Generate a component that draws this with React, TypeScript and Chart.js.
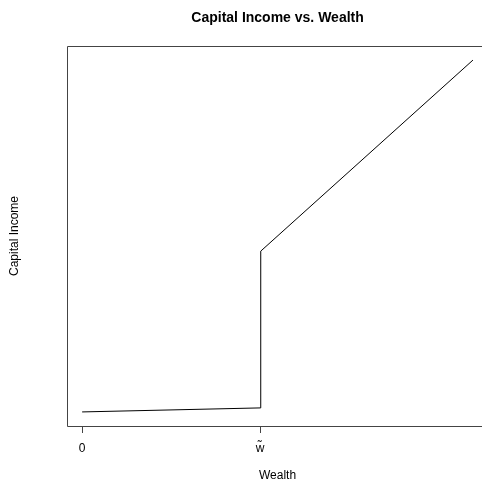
import React, { useEffect, useRef } from "react";
import { Chart, registerables } from "chart.js";

Chart.register(...registerables);

const wealth = [0, 1, 1.004, 2.197];
const capitalIncome = [0, 0.114, 4.57, 10];
const xTickValues = [0, 1];
const xTickLabels = ["0", "w\u0303"];
const titleText = "Capital Income vs. Wealth";
const xTitle = "Wealth";
const yTitle = "Capital Income";

const FONT = "'Liberation Sans', Arial, Helvetica, sans-serif";

export default function App() {
  const ref = useRef<HTMLCanvasElement | null>(null);
  useEffect(() => {
    if (!ref.current) return;
    const xr = wealth[wealth.length - 1] - wealth[0];
    const yr = Math.max(...capitalIncome) - Math.min(...capitalIncome);
    const framePlugin = {
      id: "frame",
      afterDraw(chart: any) {
        const { ctx, chartArea } = chart;
        const { left, top, right, bottom } = chartArea;
        const L = Math.round(left) + 0.5;
        const T = Math.round(top) + 0.5;
        const B = Math.round(bottom) + 0.5;
        ctx.save();
        ctx.strokeStyle = "#444";
        ctx.lineWidth = 1;
        ctx.beginPath();
        ctx.moveTo(chart.width, T);
        ctx.lineTo(L, T);
        ctx.lineTo(L, B);
        ctx.lineTo(chart.width, B);
        ctx.stroke();
        const cx = (left + right) / 2;
        ctx.fillStyle = "#000";
        ctx.textAlign = "center";
        ctx.textBaseline = "middle";
        ctx.font = `bold 14px ${FONT}`;
        ctx.fillText(titleText, cx, 18);
        ctx.font = `12px ${FONT}`;
        ctx.fillText(xTitle, cx, 476);
        ctx.translate(15, (top + bottom) / 2);
        ctx.rotate(-Math.PI / 2);
        ctx.fillText(yTitle, 0, 0);
        ctx.restore();
      },
    };
    const chart = new Chart(ref.current, {
      type: "line",
      data: {
        datasets: [
          {
            data: wealth.map((w, i) => ({ x: w, y: capitalIncome[i] })),
            borderColor: "#000",
            borderWidth: 1,
            pointRadius: 0,
            tension: 0,
            fill: false,
          },
        ],
      },
      options: {
        animation: false,
        responsive: false,
        events: [],
        layout: { padding: { left: 66.5, right: 500 - 488.6, top: 46, bottom: 0 } },
        plugins: { legend: { display: false }, title: { display: false }, tooltip: { enabled: false } },
        scales: {
          x: {
            type: "linear",
            min: wealth[0] - 0.04 * xr,
            max: wealth[wealth.length - 1] + 0.04 * xr,
            afterBuildTicks(scale: any) {
              scale.ticks = xTickValues.map((v) => ({ value: v }));
            },
            afterFit(scale: any) {
              scale.height = 55;
            },
            border: { display: false },
            grid: {
              drawOnChartArea: false,
              drawTicks: true,
              tickLength: 7,
              color: "#444",
              lineWidth: 1,
            },
            ticks: {
              padding: 8,
              color: "#000",
              font: { family: FONT, size: 12 },
              maxRotation: 0,
              autoSkip: false,
              callback(value: any) {
                const i = xTickValues.indexOf(Number(value));
                return i >= 0 ? xTickLabels[i] : "";
              },
            },
          },
          y: {
            type: "linear",
            display: false,
            min: Math.min(...capitalIncome) - 0.04 * yr,
            max: Math.max(...capitalIncome) + 0.04 * yr,
          },
        },
      },
      plugins: [framePlugin],
    });
    return () => chart.destroy();
  }, []);
  return (
    <div style={{ position: "fixed", left: 0, top: 0, width: 500, height: 481, background: "#fff" }}>
      <canvas ref={ref} width={500} height={481} style={{ display: "block" }} />
    </div>
  );
}
